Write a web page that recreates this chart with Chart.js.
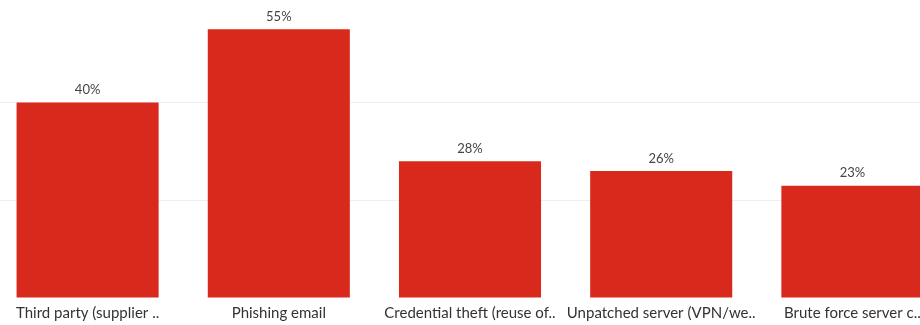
<!DOCTYPE html>
<html>
<head>
<meta charset="utf-8">
<script src="https://cdn.jsdelivr.net/npm/chart.js@4"></script>
<style>
  html, body { margin: 0; padding: 0; background: #fff; overflow: hidden; }
  #wrap { position: absolute; left: -8px; top: 0; width: 956px; height: 325px; }
</style>
</head>
<body>
<div id="wrap"><canvas id="AttackChart"></canvas></div>
<script>
const categories = ['Third party (supplier ..', 'Phishing email', 'Credential theft (reuse of..', 'Unpatched server (VPN/we..', 'Brute force server c..'];
const shares = [40, 55, 28, 26, 23];

const barRed = 'rgb(217, 41, 28)';

// draw the "40%" style labels above each bar
const valueLabels = {
    id: 'valueLabels',
    afterDatasetsDraw(chart) {
        const ctx = chart.ctx;
        const meta = chart.getDatasetMeta(0);
        ctx.save();
        ctx.font = '13px Lato';
        ctx.fillStyle = '#444';
        ctx.textAlign = 'center';
        ctx.textBaseline = 'bottom';
        meta.data.forEach(function (bar, i) {
            ctx.fillText(shares[i] + '%', bar.x, bar.y - 6);
        });
        ctx.restore();
    }
};

const config = {
    type: 'bar',
    data: {
        labels: categories,
        datasets: [{
            data: shares,
            backgroundColor: barRed,
            barPercentage: 0.743,
            categoryPercentage: 1
        }]
    },
    options: {
        animation: false,
        maintainAspectRatio: false,
        layout: {
            padding: { top: 0, bottom: -3, left: 0, right: 0 }
        },
        plugins: {
            legend: { display: false },
            tooltip: { enabled: false }
        },
        scales: {
            x: {
                grid: { display: false, drawTicks: false },
                border: { display: false },
                ticks: {
                    color: '#333',
                    font: { family: 'Lato', size: 15 },
                    maxRotation: 0,
                    autoSkip: false,
                    padding: 6
                }
            },
            y: {
                min: 0,
                max: 61,
                display: true,
                border: { display: false },
                grid: {
                    color: function (c) {
                        return (c.tick.value === 20 || c.tick.value === 40) ? '#efefef' : 'rgba(0,0,0,0)';
                    },
                    drawTicks: false
                },
                ticks: { display: false, stepSize: 20 }
            }
        }
    },
    plugins: [valueLabels]
};

const chart1 = new Chart(document.getElementById('AttackChart'), config);
</script>
</body>
</html>
